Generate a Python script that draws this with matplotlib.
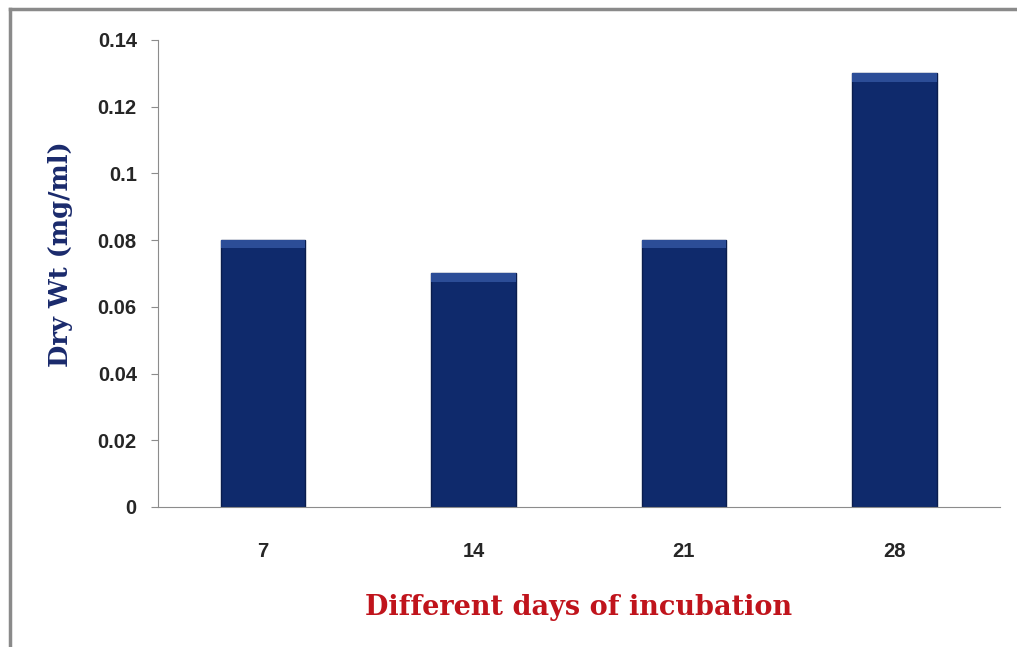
import matplotlib.pyplot as plt
from matplotlib.lines import Line2D

days = ['7', '14', '21', '28']
dry_wt = [0.08, 0.07, 0.08, 0.13]
yticks = [0, 0.02, 0.04, 0.06, 0.08, 0.1, 0.12, 0.14]
ytick_labels = ['0', '0.02', '0.04', '0.06', '0.08', '0.1', '0.12', '0.14']

fig = plt.figure(figsize=(10.17, 6.47), dpi=100)
ax = fig.add_axes([0.155, 0.2164, 0.828, 0.7218])

x = range(len(days))
bars = ax.bar(x, dry_wt, width=0.4, color='#0f2a6c', edgecolor='#0a1d4d', linewidth=1)
# lighter strip at the top of each bar
ax.bar(x, [0.0025] * len(days), bottom=[v - 0.0025 for v in dry_wt], width=0.4,
       color='#2c4d97', linewidth=0)

ax.set_xlim(-0.5, len(days) - 0.5)
ax.set_ylim(0, 0.14)
ax.set_yticks(yticks)
ax.set_yticklabels(ytick_labels)
ax.set_xticks(list(x))
ax.set_xticklabels(days)

for s in ['top', 'right']:
    ax.spines[s].set_visible(False)
ax.spines['left'].set_color('#8c8c8c')
ax.spines['bottom'].set_color('#8c8c8c')
ax.tick_params(axis='y', length=5, color='#8c8c8c', pad=10)
ax.tick_params(axis='x', length=0, pad=25)
for lab in ax.get_xticklabels() + ax.get_yticklabels():
    lab.set_fontfamily('Liberation Sans')
    lab.set_fontweight('bold')
    lab.set_fontsize(14.5)
    lab.set_color('#262626')

ax.set_ylabel('Dry Wt (mg/ml)', fontfamily='DejaVu Serif', fontweight='bold',
              fontsize=18.5, color='#1a2a6c')
ax.yaxis.set_label_coords(-0.101, 0.542)
ax.set_xlabel('Different days of incubation', fontfamily='DejaVu Serif',
              fontweight='bold', fontsize=19.5, color='#c0141c', labelpad=24)

# outer frame (top and left edges visible)
fig.add_artist(Line2D([10 / 1017, 1], [1 - 9 / 647, 1 - 9 / 647], color='#8a8a8a', lw=2.5))
fig.add_artist(Line2D([10 / 1017, 10 / 1017], [0, 1 - 9 / 647], color='#8a8a8a', lw=2.5))

fig.savefig('out.png', dpi=100)
